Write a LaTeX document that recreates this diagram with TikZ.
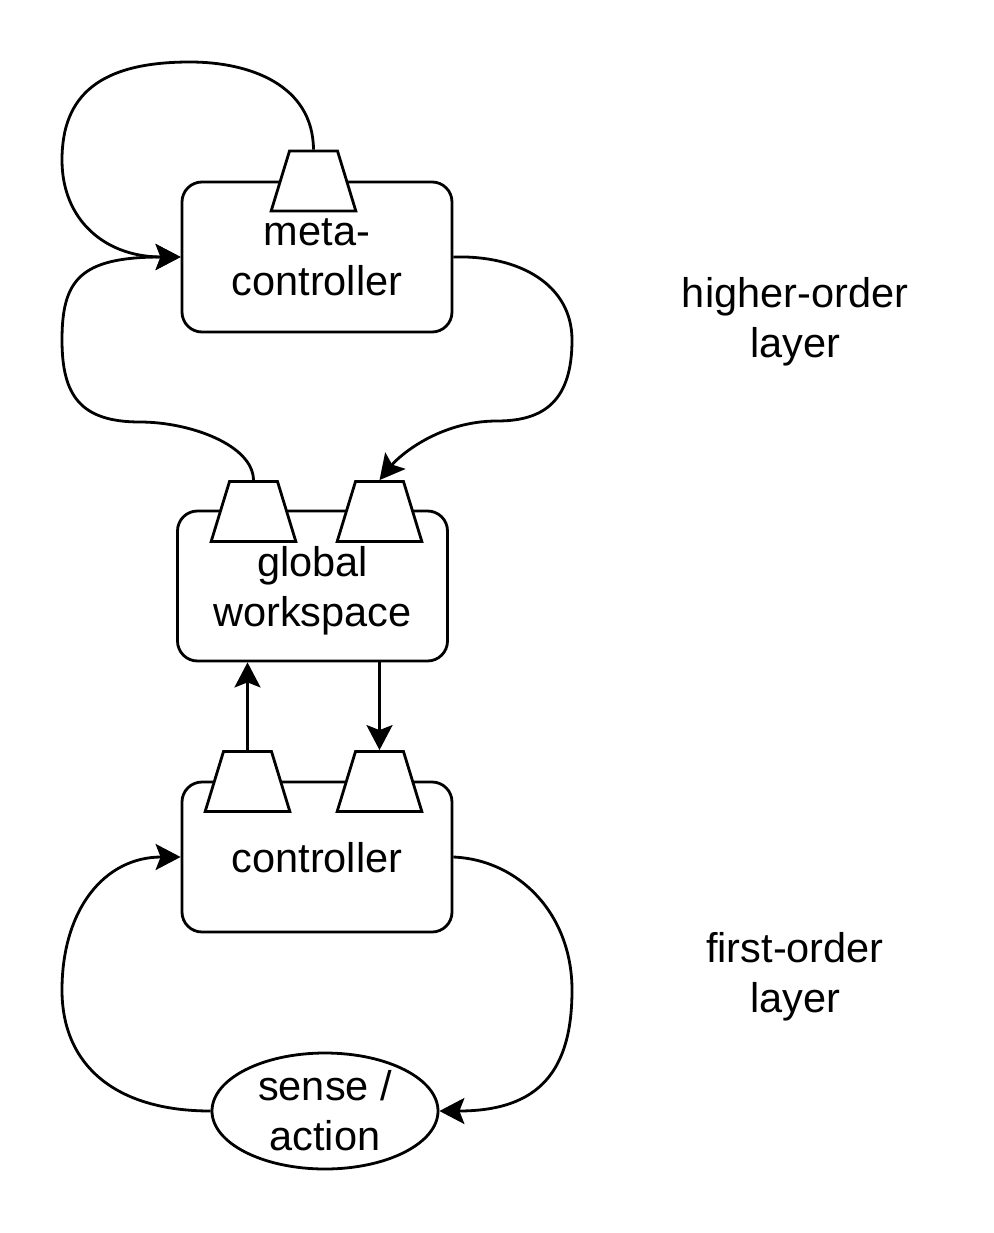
\documentclass[tikz,border=0pt]{standalone}
\usepackage{fontspec}
\setmainfont{Liberation Sans}
\usetikzlibrary{shapes.geometric,arrows.meta}
\begin{document}
\begin{tikzpicture}[x=1pt,y=-1pt,line width=2.8pt,font=\fontsize{41.5}{50}\selectfont,
    >={Stealth[length=25pt,width=26pt,inset=5pt]},
    box/.style={draw, rounded corners=20pt, minimum width=270pt, minimum height=150pt, inner sep=0pt, align=center, text depth=0pt},
    port/.style={draw, fill=white, trapezium, trapezium angle=73, inner sep=0pt, text width=48pt, text height=60pt, text depth=0pt},
    lbl/.style={align=center, text depth=0pt}]
  \useasboundingbox (0,0) rectangle (993,1233);
  % boxes
  \node[box] (meta) at (317,257) {meta-\\controller};
  \node[box] (gw) at (312.5,586) {global\\workspace};
  \node[box] (ctrl) at (317,857) {controller};
  \node[draw, ellipse, minimum width=226pt, minimum height=116pt, inner sep=0pt, align=center] (sense) at (325,1111) {sense /\\action};
  % ports
  \node[port] (mcport) at (313.5,181) {};
  \node[port] (gwportl) at (253.5,511.5) {};
  \node[port] (gwportr) at (379.5,511.5) {};
  \node[port] (ctportl) at (247.5,781.5) {};
  \node[port] (ctportr) at (379.5,781.5) {};
  % layer labels
  \node[lbl] (hlayer) at (795,317) {higher-order\\layer};
  \node[lbl] (flayer) at (795,972) {first-order\\layer};
  % higher-order loops
  \draw[->] (mcport.north) .. controls (313,85) and (250,62) .. (190,62)
    .. controls (100,62) and (62,95) .. (62,160)
    .. controls (62,220) and (105,257) .. (meta.west);
  \draw[->] (gwportl.north) .. controls (253,445) and (190,422) .. (140,422)
    .. controls (80,422) and (62,395) .. (62,340)
    .. controls (62,280) and (80,257) .. (meta.west);
  \draw[->] (meta.east) .. controls (520,255) and (572,285) .. (572,340)
    .. controls (572,400) and (545,421) .. (497,421)
    .. controls (440,421) and (400,455) .. (gwportr.north);
  % between the layers
  \draw[->] (ctportl.north) -- (ctportl.north |- gw.south);
  \draw[->] (gw.south -| ctportr.north) -- (ctportr.north);
  % first-order loop
  \draw[->] (ctrl.east) .. controls (520,860) and (572,915) .. (572,990)
    .. controls (572,1070) and (540,1111) .. (sense.east);
  \draw[->] (sense.west) .. controls (115,1111) and (62,1065) .. (62,990)
    .. controls (62,910) and (104,857) .. (ctrl.west);
\end{tikzpicture}
\end{document}
